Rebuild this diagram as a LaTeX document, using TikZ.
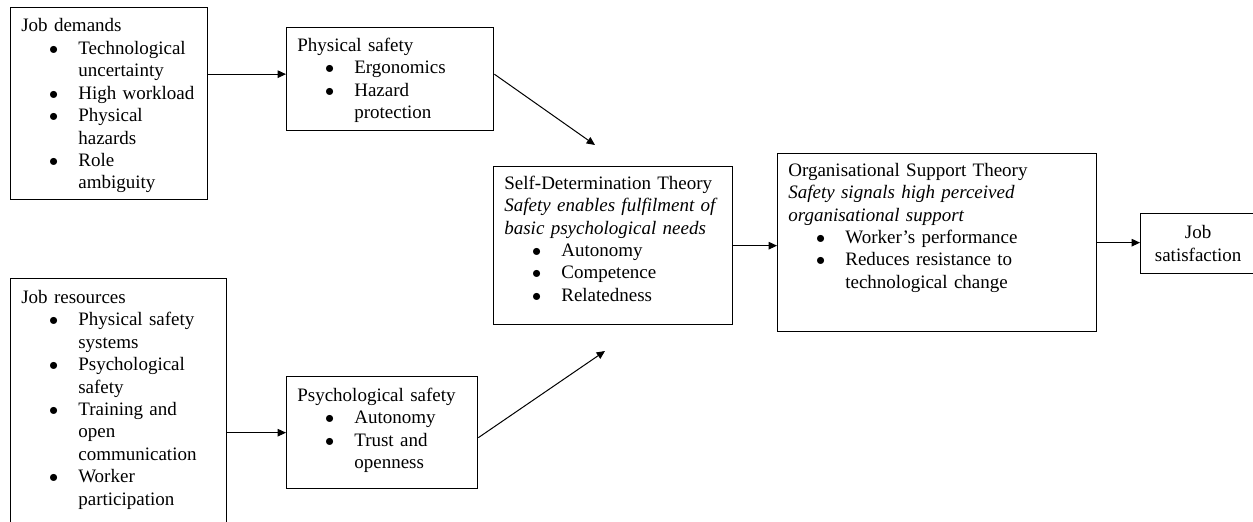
\documentclass[tikz,border=0pt]{standalone}
\usepackage{fontspec}
\setmainfont{Liberation Serif}
\usetikzlibrary{arrows.meta}
\newcommand{\itm}[1]{\par\leftskip=34.2pt\noindent\llap{\makebox[17.5pt][l]{$\bullet$}}#1\par}

\begin{document}
\begin{tikzpicture}[x=0.6pt, y=-0.6pt,
    box/.style={rectangle, draw, line width=0.8pt, anchor=north west, inner sep=0pt},
    txt/.style={anchor=base west, inner sep=0pt, text width=#1, align=left, font=\fontsize{11.4}{13.45}\selectfont},
    arrow/.style={-{Triangle[length=5pt, width=4.5pt]}, line width=0.6pt}
]
    \useasboundingbox (0,0) rectangle (1253,522);

    \node[box, minimum width=118.2pt, minimum height=115.2pt] (demands) at (10,7) {};
    \node[box, minimum width=124.2pt, minimum height=61.8pt] (physical) at (286,27) {};
    \node[box, minimum width=143.4pt, minimum height=94.8pt] (sdt) at (493,166) {};
    \node[box, minimum width=191.4pt, minimum height=106.8pt] (ost) at (777,153) {};
    \node[box, minimum width=69pt, minimum height=36pt, align=center, font=\fontsize{11.4}{13.45}\selectfont] (jobsat) at (1140,213) {Job\\satisfaction};
    \node[box, minimum width=129.6pt, minimum height=157.2pt] (resources) at (10,278) {};
    \node[box, minimum width=114.6pt, minimum height=67.2pt] (psych) at (286,376) {};

    \node[txt=111.6pt] (demands-txt) at ([xshift=6.6pt, yshift=-15pt]demands.north west) {Job demands
        \itm{Technological\\uncertainty}
        \itm{High workload}
        \itm{Physical\\hazards}
        \itm{Role\\ambiguity}};
    \node[txt=117.6pt] (physical-txt) at ([xshift=6.6pt, yshift=-14.7pt]physical.north west) {Physical safety
        \itm{Ergonomics}
        \itm{Hazard\\protection}};
    \node[txt=136.8pt] (sdt-txt) at ([xshift=6.6pt, yshift=-14pt]sdt.north west) {Self-Determination Theory\\
        \textit{Safety enables fulfilment of}\\
        \textit{basic psychological needs}
        \itm{Autonomy}
        \itm{Competence}
        \itm{Relatedness}};
    \node[txt=184.8pt] (ost-txt) at ([xshift=6.6pt, yshift=-14pt]ost.north west) {Organisational Support Theory\\
        \textit{Safety signals high perceived}\\
        \textit{organisational support}
        \itm{Worker’s performance}
        \itm{Reduces resistance to\\technological change}};
    \node[txt=123pt] (resources-txt) at ([xshift=6.6pt, yshift=-15.3pt]resources.north west) {Job resources
        \itm{Physical safety\\systems}
        \itm{Psychological\\safety}
        \itm{Training and\\open\\communication}
        \itm{Worker\\participation}};
    \node[txt=108pt] (psych-txt) at ([xshift=6.6pt, yshift=-15.3pt]psych.north west) {Psychological safety
        \itm{Autonomy}
        \itm{Trust and\\openness}};

    \coordinate (phys-in) at ([yshift=3pt]physical.west);
    \coordinate (sdt-top) at (595,145);
    \coordinate (sdt-bottom) at (605,351);

    \draw[arrow] (demands.east |- phys-in) -- (phys-in);
    \draw[arrow] ([yshift=3pt]physical.east) -- (sdt-top);
    \draw[arrow] (sdt.east) -- (sdt.east -| ost.west);
    \draw[arrow] (ost.east) -- (ost.east -| jobsat.west);
    \draw[arrow] (resources.east |- psych.west) -- (psych.west);
    \draw[arrow] ([yshift=-3pt]psych.east) -- (sdt-bottom);
\end{tikzpicture}
\end{document}
